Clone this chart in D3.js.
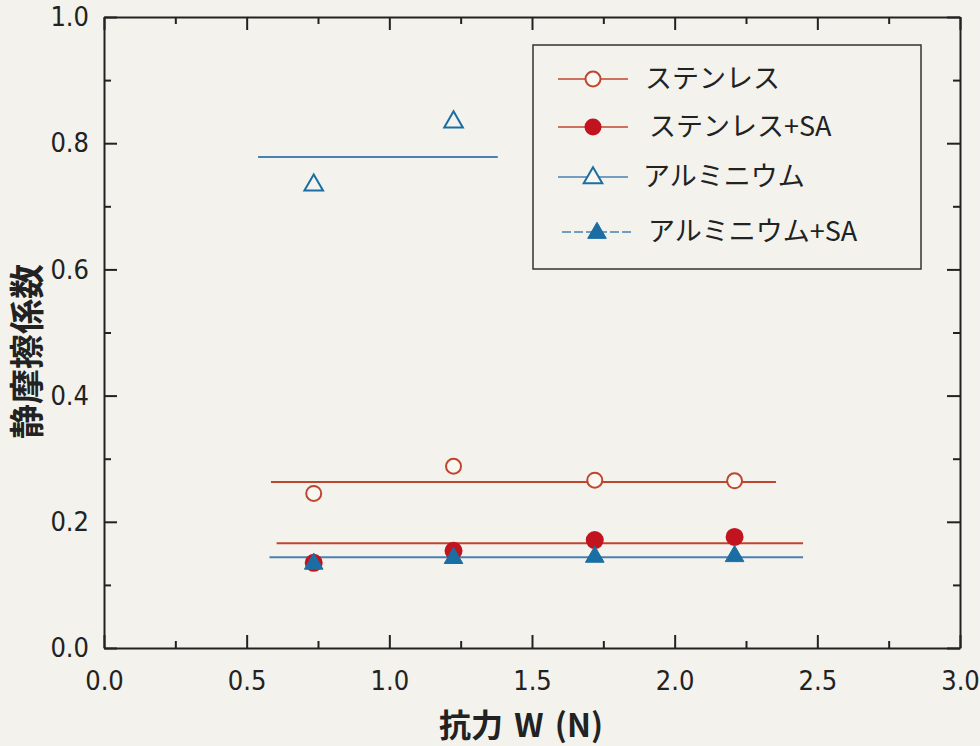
<!DOCTYPE html>
<html>
<head>
<meta charset="utf-8">
<script src="https://cdn.jsdelivr.net/npm/d3@7"></script>
<style>
  body { margin: 0; background: #f3f2ec; }
  #graf { width: 980px; height: 746px; }
  .eje path, .eje line { stroke: #222; stroke-width: 2; }
</style>
</head>
<body>
<div id="graf"></div>
<script>
// I. Datos
xs = [0.735, 1.225, 1.72, 2.21]
stainless   = [0.245, 0.288, 0.266, 0.265]
stainlessSA = [0.135, 0.154, 0.171, 0.176]
aluminium   = [0.735, 0.835]
aluminiumSA = [0.135, 0.144, 0.146, 0.147]

// líneas de ajuste: [x inicio, x fin, y]
fitStainless   = [0.585, 2.355, 0.263]
fitStainlessSA = [0.605, 2.45, 0.166]
fitAluminium   = [0.54, 1.38, 0.778]
fitAluminiumSA = [0.58, 2.45, 0.144]

nombres = ['ステンレス', 'ステンレス+SA', 'アルミニウム', 'アルミニウム+SA']
yTicks = [0, 0.2, 0.4, 0.6, 0.8, 1.0]
xTicks = [0, 0.5, 1.0, 1.5, 2.0, 2.5, 3.0]

// II. Configuración
ancho_total = 980
alto_total = 746
margins = { top: 17, left: 104, right: 20, bottom: 98 }
ancho = ancho_total - margins.left - margins.right
alto  = alto_total - margins.top - margins.bottom

rojo = '#c0452e'
rojoRelleno = '#c2141f'
azul = '#4a80b2'
azulRelleno = '#1b6ea3'

svg = d3.select('#graf').append('svg')
        .attr('width', ancho_total)
        .attr('height', alto_total)

g = svg.append('g')
       .attr('transform', `translate(${margins.left}, ${margins.top})`)

x = d3.scaleLinear().domain([0, 3]).range([0, ancho])
y = d3.scaleLinear().domain([0, 1]).range([alto, 0])

// III. Ejes
minorY = d3.range(0, 1.01, 0.1).filter(v => Math.round(v * 10) % 2 == 1)
minorX = d3.range(0.25, 3, 0.5)

function ejes(axisFn, tr, major, minor, labels, fmt) {
  a = g.append('g').attr('class', 'eje').attr('transform', tr)
  a.call(axisFn.tickValues(major).tickSizeInner(-13).tickSizeOuter(0)
               .tickPadding(labels ? 15 : 0)
               .tickFormat(labels ? fmt : ''))
  a.selectAll('text')
   .style('font-family', '"DejaVu Sans Condensed", "DejaVu Sans", sans-serif')
   .style('font-stretch', 'condensed')
   .style('font-size', '27px')
   .style('fill', '#222')
  b = g.append('g').attr('class', 'eje').attr('transform', tr)
  b.call(axisFn.tickValues(minor).tickSizeInner(-7).tickFormat(''))
  b.select('.domain').remove()
  return a
}

ejes(d3.axisLeft(y), 'translate(0,0)', yTicks, minorY, true, d3.format('.1f'))
ejes(d3.axisRight(y), `translate(${ancho},0)`, yTicks, minorY, false)
ejeX = ejes(d3.axisBottom(x), `translate(0,${alto})`, xTicks, minorX, true, d3.format('.1f'))
ejes(d3.axisTop(x), 'translate(0,0)', xTicks, minorX, false)

ejeX.selectAll('text').attr('dy', '1em')

// títulos
svg.append('text')
   .attr('transform', `translate(40, ${margins.top + alto * 0.53}) rotate(-90)`)
   .attr('text-anchor', 'middle')
   .style('font-family', '"Noto Sans CJK JP", sans-serif')
   .style('font-weight', 'bold')
   .style('font-size', '35px')
   .style('fill', '#222')
   .text('静摩擦係数')

svg.append('text')
   .attr('x', 521)
   .attr('y', 737)
   .attr('text-anchor', 'middle')
   .style('font-family', '"Noto Sans CJK JP", sans-serif')
   .style('font-weight', 'bold')
   .style('font-size', '32px')
   .style('fill', '#222')
   .style('word-spacing', '4px')
   .text('抗力 W (N)')

// IV. Líneas de ajuste
function ajuste(f, color) {
  g.append('line')
   .attr('x1', x(f[0])).attr('x2', x(f[1]))
   .attr('y1', y(f[2])).attr('y2', y(f[2]))
   .attr('stroke', color).attr('stroke-width', 2)
}
ajuste(fitStainless, rojo)
ajuste(fitStainlessSA, rojo)
ajuste(fitAluminium, azul)
ajuste(fitAluminiumSA, azul)

// V. Marcadores
tri = d3.symbol().type(d3.symbolTriangle).size(150)

function circulos(vals, relleno) {
  g.selectAll(null).data(vals).enter().append('circle')
   .attr('cx', (d, i) => x(xs[i]))
   .attr('cy', d => y(d))
   .attr('r', relleno ? 8 : 7.5)
   .attr('fill', relleno ? rojoRelleno : '#f8f7f2')
   .attr('stroke', relleno ? rojoRelleno : rojo)
   .attr('stroke-width', 2)
}
function triangulos(vals, relleno) {
  g.selectAll(null).data(vals).enter().append('path')
   .attr('d', tri)
   .attr('transform', (d, i) => `translate(${x(xs[i])},${y(d) + 1})`)
   .attr('fill', relleno ? azulRelleno : 'none')
   .attr('stroke', azulRelleno)
   .attr('stroke-width', relleno ? 1 : 2)
}
circulos(stainless, false)
circulos(stainlessSA, true)
triangulos(aluminium, false)
triangulos(aluminiumSA, true)

// VI. Leyenda
leg = svg.append('g')
leg.append('rect')
   .attr('x', 533).attr('y', 45)
   .attr('width', 388).attr('height', 224)
   .attr('fill', 'none').attr('stroke', '#333').attr('stroke-width', 1.5)

filas = [79, 127, 177, 232]
textoX = [645, 649, 643, 648]
estilos = [
  { color: rojo, marca: 'circle', relleno: false },
  { color: rojo, marca: 'circle', relleno: true },
  { color: azul, marca: 'tri', relleno: false },
  { color: azul, marca: 'tri', relleno: true, dash: '9,3' }
]
nombres.forEach((n, i) => {
  e = estilos[i]
  leg.append('line')
     .attr('x1', i == 3 ? 562 : 558).attr('x2', i == 3 ? 632 : 628)
     .attr('y1', filas[i]).attr('y2', filas[i])
     .attr('stroke', e.color).attr('stroke-width', 1.5)
     .attr('stroke-dasharray', e.dash || null)
  mx = i == 3 ? 597 : 593
  if (e.marca == 'circle') {
    leg.append('circle').attr('cx', mx).attr('cy', filas[i]).attr('r', 7.5)
       .attr('fill', e.relleno ? rojoRelleno : '#f8f7f2')
       .attr('stroke', e.relleno ? rojoRelleno : rojo).attr('stroke-width', 2)
  } else {
    leg.append('path').attr('d', tri)
       .attr('transform', `translate(${mx},${filas[i] + 1})`)
       .attr('fill', e.relleno ? azulRelleno : '#f8f7f2')
       .attr('stroke', azulRelleno).attr('stroke-width', e.relleno ? 1 : 2)
  }
  leg.append('text')
     .attr('x', textoX[i]).attr('y', filas[i])
     .attr('dy', '0.35em')
     .style('font-family', '"Noto Sans CJK JP", sans-serif')
     .style('font-size', '27px')
     .style('fill', '#222')
     .text(n)
})
</script>
</body>
</html>
